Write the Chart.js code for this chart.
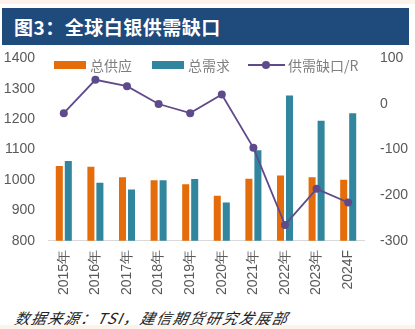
<!DOCTYPE html>
<html>
<head>
<meta charset="utf-8">
<script src="https://cdn.jsdelivr.net/npm/chart.js@4.4.1/dist/chart.umd.min.js"></script>
<style>
  html, body { margin: 0; padding: 0; }
  body { width: 415px; height: 329px; position: relative; background: #ffffff; overflow: hidden; font-family: "Liberation Sans", "Noto Sans CJK SC", sans-serif; }
  #topStrip { position: absolute; left: 0; top: 0; width: 415px; height: 4px; background: #fdf3ea; }
  #botStrip { position: absolute; left: 0; top: 325px; width: 415px; height: 4px; background: #fdf3ea; }
  #title { position: absolute; left: 2px; top: 8px; width: 407px; height: 37px; background: #1f4a7c; color: #ffffff; font-family: "Noto Sans CJK SC", sans-serif; font-weight: bold; font-size: 19px; line-height: 37px; padding-left: 12px; box-sizing: border-box; letter-spacing: 0.5px; }
  #wrap { position: absolute; left: 0; top: 34px; width: 415px; height: 273px; }
  #source { position: absolute; left: 13px; top: 308px; font-family: "Noto Sans CJK SC", sans-serif; font-style: italic; font-size: 15px; color: #222; letter-spacing: 1.5px; line-height: 20px; transform: skewX(-12deg); transform-origin: left bottom; }
  .leg { position: absolute; top: 56px; height: 18px; font-family: "Noto Sans CJK SC", sans-serif; font-size: 14px; color: #7f7f7f; line-height: 18px; white-space: nowrap; }
  .box { position: absolute; top: 5px; width: 32px; height: 8px; }
</style>
</head>
<body>
<div id="topStrip"></div>
<div id="title">图3：全球白银供需缺口</div>
<div id="wrap"><canvas id="c"></canvas></div>
<div class="leg" style="left:54px;"><span class="box" style="left:0;background:#e46c0a;"></span><span style="position:absolute;left:36px;">总供应</span></div>
<div class="leg" style="left:152px;"><span class="box" style="left:0;background:#31859c;"></span><span style="position:absolute;left:36px;">总需求</span></div>
<div class="leg" style="left:248px;"><span style="position:absolute;left:0;top:8px;width:37px;height:2px;background:#5f4b8b;"></span><span style="position:absolute;left:14px;top:5px;width:8px;height:8px;border-radius:50%;background:#5f4b8b;"></span><span style="position:absolute;left:40px;">供需缺口/R</span></div>
<div id="source">数据来源：TSI，建信期货研究发展部</div>
<div id="botStrip"></div>
<script>
const categories = ["2015年","2016年","2017年","2018年","2019年","2020年","2021年","2022年","2023年","2024F"];
const totalSupply = [1046, 1044, 1009, 999, 986, 948, 1004, 1015, 1009, 1001];
const totalDemand = [1063, 991, 969, 999, 1003, 926, 1098, 1278, 1195, 1220];
const gap = [-20, 53, 39, 0, -20, 21, -96, -265, -186, -216];
const leftTicks = [800, 900, 1000, 1100, 1200, 1300, 1400];
const rightTicks = [-300, -200, -100, 0, 100];

const tickFont = { family: "Liberation Sans", size: 14 };
const tickColor = "#595959";

new Chart(document.getElementById("c"), {
  data: {
    labels: categories,
    datasets: [
      { type: "line", label: "供需缺口/R", data: gap, yAxisID: "y2", borderColor: "#5f4b8b", backgroundColor: "#5f4b8b", borderWidth: 1.8, pointRadius: 4, pointBackgroundColor: "#5f4b8b", pointBorderWidth: 0, tension: 0, order: 0 },
      { type: "bar", label: "总供应", data: totalSupply, yAxisID: "y", backgroundColor: "#e46c0a", categoryPercentage: 0.57, barPercentage: 0.78, order: 1 },
      { type: "bar", label: "总需求", data: totalDemand, yAxisID: "y", backgroundColor: "#31859c", categoryPercentage: 0.57, barPercentage: 0.78, order: 1 }
    ]
  },
  options: {
    responsive: true,
    maintainAspectRatio: false,
    animation: false,
    layout: { padding: { top: 13, left: 0, right: 0, bottom: 3 } },
    plugins: { legend: { display: false }, tooltip: { enabled: false } },
    scales: {
      x: {
        grid: { display: false, drawTicks: false },
        border: { display: true, color: "#d9d9d9", width: 1 },
        ticks: { color: tickColor, font: { family: "Liberation Sans", size: 14 }, maxRotation: 90, minRotation: 90, padding: 9, autoSkip: false }
      },
      y: {
        position: "left",
        min: 800, max: 1400,
        afterBuildTicks: (s) => { s.ticks = leftTicks.map(v => ({ value: v })); },
        afterFit: (s) => { s.width = 48; },
        grid: { display: false, drawTicks: false },
        border: { display: false },
        ticks: { color: tickColor, font: tickFont, padding: 13, callback: (v) => String(v) }
      },
      y2: {
        position: "right",
        min: -300, max: 100,
        afterBuildTicks: (s) => { s.ticks = rightTicks.map(v => ({ value: v })); },
        afterFit: (s) => { s.width = 51; },
        grid: { display: false, drawTicks: false },
        border: { display: false },
        ticks: { color: tickColor, font: tickFont, padding: 16, callback: (v) => String(v) }
      }
    }
  }
});
</script>
</body>
</html>
